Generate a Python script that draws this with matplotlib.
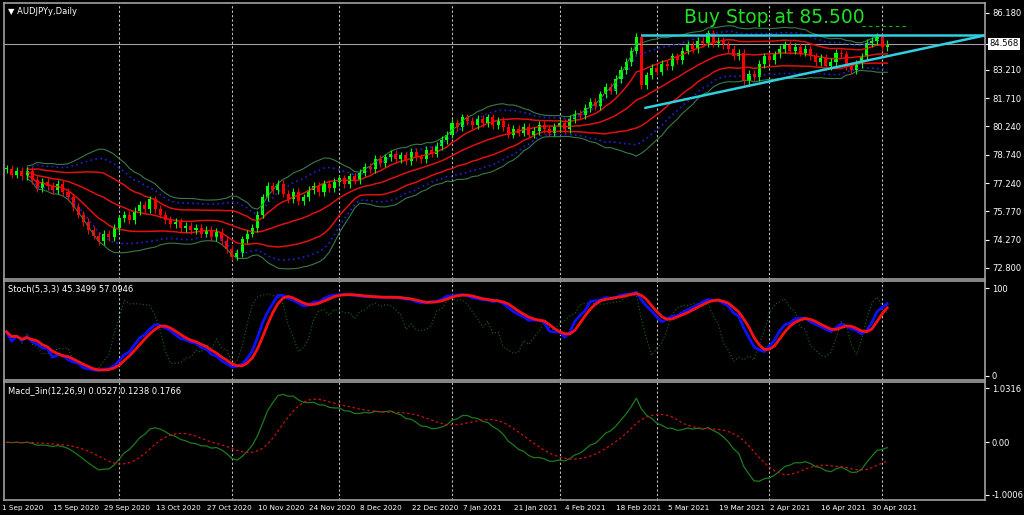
import numpy as np
import pandas as pd
import matplotlib
matplotlib.use('Agg')
import matplotlib.pyplot as plt

# daily closes AUDJPY, 1 Sep 2020 .. 30 Apr 2021
closes = [78.0, 77.7,
    77.9, 77.6, 77.9, 77.4, 77.0, 77.3, 77.1, 76.9, 77.2, 76.8,
    76.5, 76.0, 75.6, 75.2, 74.8, 74.5, 74.2, 74.6, 74.4, 74.9,
    75.4, 75.6, 75.3, 75.8, 76.1, 75.9, 76.4, 75.9, 75.6, 75.3,
    75.1, 75.2, 74.9, 75.0, 74.8, 74.9, 74.6, 74.8, 74.4, 74.7,
    74.2, 73.8, 73.4, 73.6, 74.3, 74.6, 74.9, 75.6, 76.5, 77.1,
    76.9, 77.2, 76.7, 76.4, 76.8, 76.3, 76.5, 76.9, 77.1, 76.8,
    77.2, 77.0, 77.3, 77.5, 77.2, 77.6, 77.4, 77.8, 78.1, 78.0,
    78.5, 78.3, 78.6, 78.8, 78.5, 78.7, 78.4, 78.9, 78.6, 78.5,
    79.0, 78.8, 79.2, 79.5, 79.8, 80.4, 80.2, 80.7, 80.5, 80.3,
    80.6, 80.4, 80.7, 80.3, 80.5, 80.2, 79.8, 80.1, 79.9, 80.2,
    79.8, 80.0, 80.3, 80.1, 79.9, 80.2, 80.4, 80.1, 80.6, 80.9,
    80.8, 81.2, 81.5, 81.3, 81.9, 82.3, 82.1, 82.7, 83.2, 83.6,
    84.2, 84.9, 82.4, 82.9, 83.3, 83.1, 83.5, 83.4, 83.9, 83.7,
    84.2, 84.5, 84.3, 84.7, 84.6, 85.1, 84.6, 84.7, 84.5, 84.3,
    83.9, 84.1, 82.6, 83.0, 82.8, 83.5, 83.9, 83.7, 84.0, 84.3,
    84.5, 84.2, 84.4, 84.1, 84.3, 83.9, 83.6, 83.8, 83.4, 83.6,
    84.1, 84.0, 83.4, 83.2, 83.5, 83.9, 84.6, 84.7, 84.9, 84.4,
    84.568]
wick = 0.2
date_labels = ['1 Sep 2020', '15 Sep 2020', '29 Sep 2020', '13 Oct 2020', '27 Oct 2020',
               '10 Nov 2020', '24 Nov 2020', '8 Dec 2020', '22 Dec 2020', '7 Jan 2021',
               '21 Jan 2021', '4 Feb 2021', '18 Feb 2021', '5 Mar 2021', '19 Mar 2021',
               '2 Apr 2021', '16 Apr 2021', '30 Apr 2021']
month_seps = [22, 44, 65, 87, 108, 127, 149, 171]
price_ticks = [86.180, 84.568, 83.210, 81.710, 80.240, 78.740, 77.240, 75.770, 74.270, 72.800]
last_price = 84.568
buy_stop = 85.500
top_line = 85.03
low_line = [(124.8, 81.2), (191.6, 85.03)]

c = pd.Series(closes)
o = c.shift(1).fillna(c.iloc[0])
h = np.maximum(o, c) + wick
l = np.minimum(o, c) - wick
idx = np.arange(len(c))

mid = c.rolling(20, min_periods=5).mean()
sd = c.rolling(20, min_periods=5).std()

lo5, hi5 = l.rolling(5, min_periods=1).min(), h.rolling(5, min_periods=1).max()
raw = 100 * (c - lo5) / (hi5 - lo5)
fast = raw.rolling(3, min_periods=1).mean()
lo20, hi20 = l.rolling(20, min_periods=1).min(), h.rolling(20, min_periods=1).max()
k = (100 * (c - lo20) / (hi20 - lo20)).rolling(5, min_periods=1).mean()
ks = k.rolling(3, min_periods=1).mean()

# macd, detrended so it swings round zero like the reference indicator
macd = c.ewm(span=12).mean() - c.ewm(span=26).mean()
macd = 1.6 * (macd - macd.ewm(span=40).mean())
sig = macd.rolling(9, min_periods=1).mean()

W, H = 1024, 515
fig = plt.figure(figsize=(W / 100, H / 100), dpi=100, facecolor='black')
def pax(top, bot):
    a = fig.add_axes([4 / W, 1 - bot / H, 981 / W, (bot - top) / H], facecolor='black')
    for s in a.spines.values():
        s.set_color('#a0a0a0')
        s.set_linewidth(1.2)
    a.set_xlim(-0.5, 191.1)
    a.set_xticks([])
    a.yaxis.tick_right()
    a.tick_params(axis='y', colors='white', labelsize=6, length=3, pad=2)
    for m in month_seps:
        a.axvline(m, color='#c0c0c0', ls=(0, (2, 2)), lw=0.8)
    return a

ax1 = pax(3, 279)
ax2 = pax(281, 380)
ax3 = pax(382, 500)

ax1.set_ylim(72.22, 86.70)
ax1.set_yticks(price_ticks)
ax1.set_yticklabels(['%.3f' % p if p != last_price else '' for p in price_ticks])
ax1.axhline(last_price, color='#a0a0a0', lw=0.8)
ax1.text(1.004, last_price, '%.3f' % last_price, transform=ax1.get_yaxis_transform(),
         fontsize=6, color='black', va='center',
         bbox=dict(facecolor='white', edgecolor='none', pad=1))

ax1.plot(idx, mid + 2 * sd, color='#3a7a4a', lw=0.8)
ax1.plot(idx, mid - 2 * sd, color='#3a7a4a', lw=0.8)
ax1.plot(idx, mid + 1.6 * sd, color='#2020e0', lw=1.2, ls=(0, (1, 2)))
ax1.plot(idx, mid - 1.6 * sd, color='#2020e0', lw=1.2, ls=(0, (1, 2)))
for off in (-1, 0, 1):
    ax1.plot(idx, mid + off * sd, color='#e01010', lw=1.1)

col = np.where(c >= o, '#00ff00', '#ff0000')
ax1.vlines(idx, l, h, colors=col, lw=0.8)
ax1.bar(idx, np.maximum(np.abs(c - o), 0.03), bottom=np.minimum(o, c), width=0.6, color=col)

ax1.plot([124.2, 191.6], [top_line, top_line], color='#30d0e0', lw=1.8)
ax1.plot([p[0] for p in low_line], [p[1] for p in low_line], color='#30d0e0', lw=1.8)
ax1.plot([167, 176], [buy_stop, buy_stop], color='#00c000', lw=0.8, ls=(0, (3, 3)))
ax1.text(150, 85.95, 'Buy Stop at %.3f' % buy_stop, color='#20e020', fontsize=13.5,
         ha='center', va='center')
ax1.text(0.004, 0.985, '\u25bc AUDJPYy,Daily', transform=ax1.transAxes, color='white',
         fontsize=6, va='top')

ax2.set_ylim(-5, 108)
ax2.set_yticks([100, 0])
ax2.plot(idx, fast, color='#1a6a1a', lw=0.8, ls=(0, (1, 2)))
ax2.plot(idx, k, color='#1010ff', lw=2)
ax2.plot(idx, ks, color='#ff1010', lw=2)
ax2.text(0.004, 0.96, 'Stoch(5,3,3) 45.3499 57.0946', transform=ax2.transAxes,
         color='white', fontsize=6, va='top')

ax3.set_ylim(-1.1, 1.15)
ax3.set_yticks([1.0316, 0.0, -1.0006])
ax3.set_yticklabels(['1.0316', '0.00', '-1.0006'])
ax3.plot(idx, macd, color='#1e7a1e', lw=0.9)
ax3.plot(idx, sig, color='#d01010', lw=0.9, ls=(0, (2, 2)))
ax3.text(0.004, 0.965, 'Macd_3in(12,26,9) 0.0527 0.1238 0.1766', transform=ax3.transAxes,
         color='white', fontsize=6, va='top')

for n, lab in enumerate(date_labels):
    fig.text((4 + 5.12 * n * 10 - 2) / W, 1 - 508 / H, lab, color='white', fontsize=5.2,
             va='center', ha='left')

fig.savefig('out.png', dpi=100, facecolor='black')
